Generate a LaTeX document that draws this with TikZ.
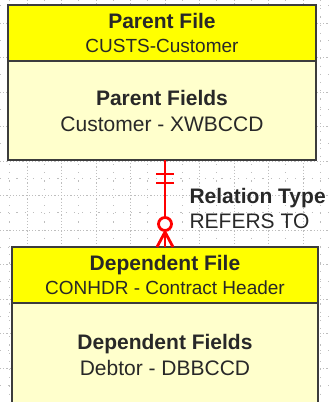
\documentclass[tikz,border=0pt]{standalone}
\usepackage{fontspec}
\setmainfont{Liberation Sans}
\usepackage{tikz}
\usetikzlibrary{positioning,calc}

\definecolor{hdrYellow}{HTML}{FFFF00}
\definecolor{bodyYellow}{HTML}{FFFFCC}
\definecolor{boxBorder}{HTML}{3C3C3C}
\definecolor{gridGray}{HTML}{BEBEBE}
\definecolor{txtGray}{HTML}{282828}
\definecolor{relRed}{HTML}{FF0000}

\newcommand{\titlefont}{\fontsize{21}{24}\selectfont\bfseries}

\begin{document}
\begin{tikzpicture}[
        x=1pt, y=-1pt,
        % Styles
        headbox/.style={
            rectangle,
            draw=boxBorder,
            fill=hdrYellow,
            line width=1.4pt,
            outer sep=0pt,
            minimum width=308pt,
            minimum height=56pt,
            align=center,
            text=txtGray,
            font=\fontsize{19}{24}\selectfont
        },
        bodybox/.style={
            headbox,
            fill=bodyYellow,
            minimum height=99pt,
            font=\fontsize{21}{26}\selectfont
        },
        majorgrid/.style={
            gridGray,
            line width=0.8pt,
            dash pattern=on 1.2pt off 2pt
        },
        minorgrid/.style={
            gridGray,
            line width=0.8pt,
            dash pattern=on 1.2pt off 7pt
        },
        relline/.style={
            relRed,
            line width=2.8pt
        },
        rellabel/.style={
            anchor=west,
            align=left,
            text=txtGray,
            font=\fontsize{21}{25}\selectfont
        }
    ]

    \clip (0,0) rectangle (329,402);

    % Background grid
    \foreach \k in {-1,...,9} {
        \draw[majorgrid] ({27+34.5*\k},0) -- ({27+34.5*\k},402);
        \draw[minorgrid] ({44.25+34.5*\k},0) -- ({44.25+34.5*\k},402);
    }
    \foreach \k in {-1,...,11} {
        \draw[majorgrid] (0,{23+34.5*\k}) -- (329,{23+34.5*\k});
        \draw[minorgrid] (0,{40.25+34.5*\k}) -- (329,{40.25+34.5*\k});
    }

    % Parent File
    \node[headbox] (phead) at (162,33) {{\titlefont Parent File}\\CUSTS-Customer};
    \node[bodybox, below=0pt of phead] (pbody) {\textbf{Parent Fields}\\Customer - XWBCCD};

    % Dependent File
    \node[headbox, minimum width=306pt] (dhead) at (165,275) {{\titlefont Dependent File}\\CONHDR - Contract Header};
    \node[bodybox, minimum width=306pt, minimum height=104pt, below=0pt of dhead] (dbody) {\textbf{Dependent Fields}\\Debtor - DBBCCD};

    % Relation: one and only one -> zero or many
    \coordinate (ptop) at (pbody.south -| dhead.north);
    \draw[relline] (ptop) -- (dhead.north);
    \draw[relline] ($(ptop)+(-9,14)$) -- ++(18,0);
    \draw[relline] ($(ptop)+(-9,23)$) -- ++(18,0);
    \draw[relline, fill=white] ($(dhead.north)+(0,-23)$) circle (6.5pt);
    \draw[relline] ($(dhead.north)+(-8,0)$) -- ($(dhead.north)+(0,-15)$) -- ($(dhead.north)+(8,0)$);

    % Relation label
    \node[rellabel] (reltype) at (186,208) {\textbf{Relation Type}\\REFERS TO};

\end{tikzpicture}
\end{document}
